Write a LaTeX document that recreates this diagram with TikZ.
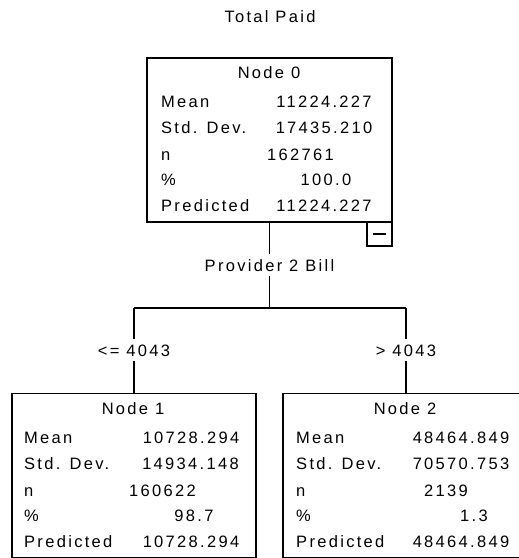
\documentclass[tikz,border=0pt]{standalone}
\usepackage{fontspec}
\setmainfont[LetterSpace=14]{Liberation Sans}
\begin{document}
\begin{tikzpicture}[x=1pt,y=-1pt,
  every node/.style={font=\fontsize{16.5}{18}\selectfont},
  box/.style={draw, line width=1.2pt, inner sep=0pt, minimum width=245pt, minimum height=164pt},
  txt/.style={inner sep=0pt, text height=12pt, text depth=0pt},
  lab/.style={txt, anchor=west},
  cut/.style={txt, fill=white, inner ysep=5pt, inner xsep=2pt},
  edge/.style={line width=1.2pt}]
\useasboundingbox (0,0) rectangle (519,558);
% title
\node[txt] (title) at (270,16) {Total Paid};
% boxes
\node[box] (n0) at (269.5,140) {};
\node[box, minimum width=244pt] (n1) at (134,475.5) {};
\node[box, minimum width=244pt] (n2) at (405,475.5) {};
\node[draw, line width=1.2pt, minimum width=25pt, minimum height=24pt, inner sep=0pt] (mb) at (379.5,234) {};
\draw[line width=1.2pt] ([xshift=-6.5pt]mb.center) -- ([xshift=6.5pt]mb.center);
% node 0 text
\node[txt] (h0) at (269,72) {Node 0};
\node[lab] (a0) at (161,101.5) {Mean};
\node[lab] (b0) at (161,127) {Std. Dev.};
\node[lab] (c0) at (161,154) {n};
\node[lab] (d0) at (161,179) {\%};
\node[lab] (e0) at (161,205) {Predicted};
\node[txt] (va0) at (324,101.5) {11224.227};
\node[txt] (vb0) at (324,127) {17435.210};
\node[txt] (vc0) at (300.5,154) {162761};
\node[txt] (vd0) at (326,179) {100.0};
\node[txt] (ve0) at (324,205) {11224.227};
% node 1 text
\node[txt] (h1) at (133,408) {Node 1};
\node[lab] (a1) at (24,437.5) {Mean};
\node[lab] (b1) at (24,463) {Std. Dev.};
\node[lab] (c1) at (24,490) {n};
\node[lab] (d1) at (24,515) {\%};
\node[lab] (e1) at (24,541) {Predicted};
\node[txt] (va1) at (191,437.5) {10728.294};
\node[txt] (vb1) at (190.5,463) {14934.148};
\node[txt] (vc1) at (162.5,490) {160622};
\node[txt] (vd1) at (194,515) {98.7};
\node[txt] (ve1) at (191,541) {10728.294};
% node 2 text
\node[txt] (h2) at (405,408) {Node 2};
\node[lab] (a2) at (296,437.5) {Mean};
\node[lab] (b2) at (296,463) {Std. Dev.};
\node[lab] (c2) at (296,490) {n};
\node[lab] (d2) at (296,515) {\%};
\node[lab] (e2) at (296,541) {Predicted};
\node[txt] (va2) at (461,437.5) {48464.849};
\node[txt] (vb2) at (461,463) {70570.753};
\node[txt] (vc2) at (446,490) {2139};
\node[txt] (vd2) at (474,515) {1.3};
\node[txt] (ve2) at (461,541) {48464.849};
% connectors
\node[cut] (split) at (269.5,265) {Provider 2 Bill};
\coordinate (hl) at (134,308);
\coordinate (hr) at (406,308);
\node[cut] (cl) at (134,350) {<= 4043};
\node[cut] (cr) at (406,350) {> 4043};
\draw[edge] (n0.south) -- (split.north);
\draw[edge] (split.south) -- (split.south |- hl);
\draw[edge] (hl) -- (hr);
\draw[edge] (hl) -- (cl.north);
\draw[edge] (hr) -- (cr.north);
\draw[edge] (cl.south) -- (n1.north);
\draw[edge] (cr.south) -- (cr.south |- n2.north);
\end{tikzpicture}
\end{document}
